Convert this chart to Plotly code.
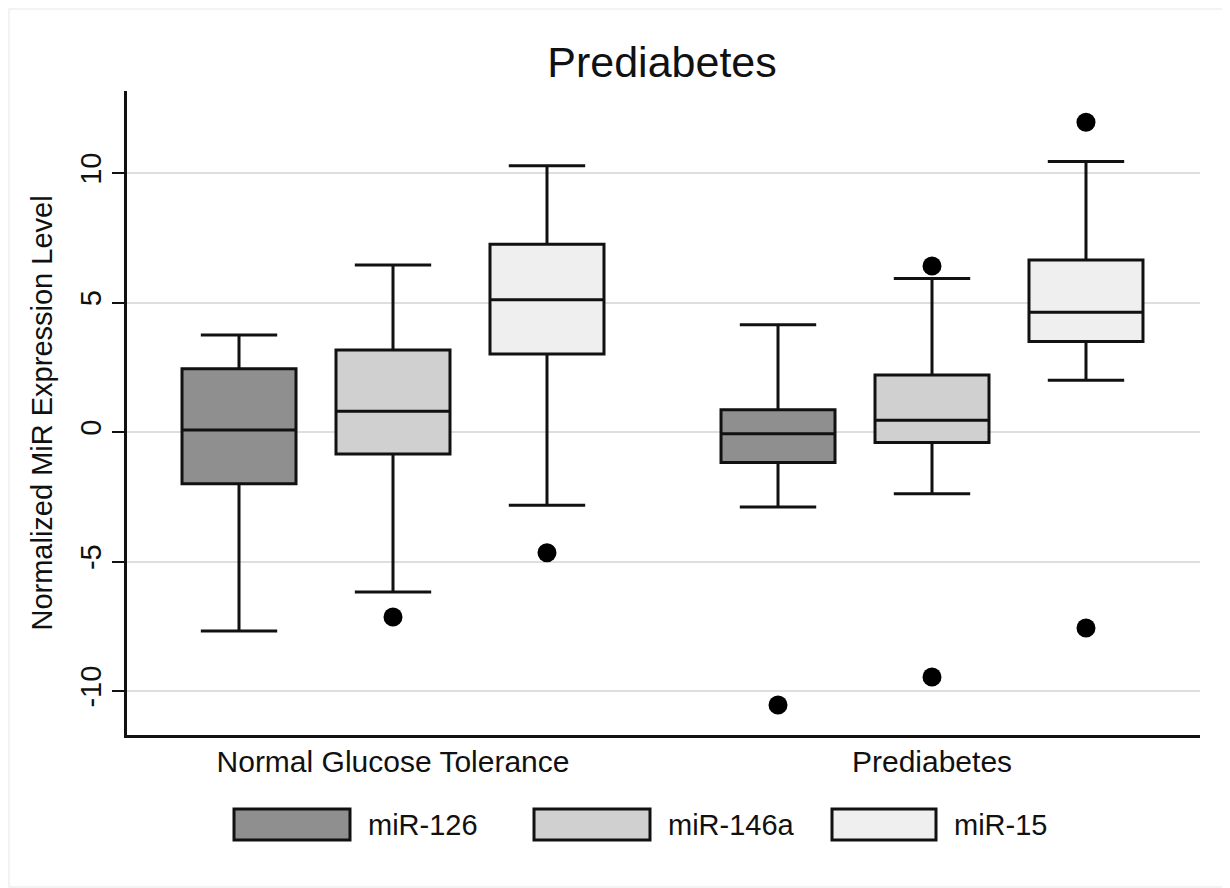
import plotly.graph_objects as go

# ---------------- data ----------------
groups = ["Normal Glucose Tolerance", "Prediabetes"]
series = ["miR-126", "miR-146a", "miR-15"]
fills = ["#8f8f8f", "#d0d0d0", "#efefef"]

# per series: values for [NGT, Prediabetes]
lower_126 = [-7.68, -2.90]
q1_126 = [-2.00, -1.18]
med_126 = [0.08, -0.07]
q3_126 = [2.44, 0.86]
upper_126 = [3.75, 4.14]
out_126_grp = [1]
out_126_val = [-10.54]

lower_146a = [-6.18, -2.38]
q1_146a = [-0.85, -0.41]
med_146a = [0.80, 0.45]
q3_146a = [3.17, 2.20]
upper_146a = [6.45, 5.93]
out_146a_grp = [0, 1, 1]
out_146a_val = [-7.14, 6.41, -9.46]

lower_15 = [-2.83, 2.00]
q1_15 = [3.01, 3.49]
med_15 = [5.11, 4.62]
q3_15 = [7.25, 6.64]
upper_15 = [10.28, 10.44]
out_15_grp = [0, 1, 1]
out_15_val = [-4.66, 11.96, -7.57]

y_ticks = [-10, -5, 0, 5, 10]
y_tick_labels = ["-10", "-5", "0", "5", "10"]

stats = [
    (lower_126, q1_126, med_126, q3_126, upper_126, out_126_grp, out_126_val),
    (lower_146a, q1_146a, med_146a, q3_146a, upper_146a, out_146a_grp, out_146a_val),
    (lower_15, q1_15, med_15, q3_15, upper_15, out_15_grp, out_15_val),
]

# ---------------- layout geometry ----------------
OFF = 8  # page body margin
W, H = 1230 - OFF, 888 - OFF
L, T = 127 - OFF, 91 - OFF
R = W - (1200 - OFF)
B = H - (735 - OFF)
PW, PH = W - L - R, H - T - B

slot = 0.2857     # distance between box centres (category units)
box_w = 0.2115    # box width (category units)

FONT = "Liberation Sans, Arial, Helvetica, sans-serif"
INK = "#111111"

fig = go.Figure()
for i, (name, col, st) in enumerate(zip(series, fills, stats)):
    lo, q1, md, q3, up, og, ov = st
    off = (i - 1) * slot
    xs = [g + off for g in range(len(groups))]
    fig.add_trace(go.Box(
        x=xs, lowerfence=lo, q1=q1, median=md, q3=q3, upperfence=up,
        name=name, width=box_w, whiskerwidth=0.67,
        fillcolor=col, line=dict(color=INK, width=3),
        boxpoints=False, showlegend=False, hoverinfo="skip",
    ))
    fig.add_trace(go.Scatter(
        x=[g + off for g in og], y=ov, mode="markers",
        marker=dict(color="black", size=19),
        showlegend=False, hoverinfo="skip",
    ))


def px_to_paper_x(px):
    return (px - OFF - L) / PW


def px_to_paper_y(py):
    return (H - B - (py - OFF)) / PH


# manual legend (rectangles + labels)
legend_rects = [(234, 350), (534, 650), (832, 936)]
legend_y = (809, 840)
shapes = []
annotations = []
for (x0, x1), name, col in zip(legend_rects, series, fills):
    shapes.append(dict(
        type="rect", xref="paper", yref="paper",
        x0=px_to_paper_x(x0), x1=px_to_paper_x(x1),
        y0=px_to_paper_y(legend_y[1]), y1=px_to_paper_y(legend_y[0]),
        fillcolor=col, line=dict(color=INK, width=3),
    ))
    annotations.append(dict(
        text=name, xref="paper", yref="paper",
        x=px_to_paper_x(x1 + 16), y=px_to_paper_y((legend_y[0] + legend_y[1]) / 2),
        xanchor="left", yanchor="middle", showarrow=False,
        font=dict(size=29, color=INK, family=FONT),
    ))

# faint outer frame
shapes.append(dict(
    type="rect", xref="paper", yref="paper",
    x0=px_to_paper_x(9), x1=px_to_paper_x(1228),
    y0=px_to_paper_y(887), y1=px_to_paper_y(9),
    line=dict(color="#f0f0f0", width=1.5), fillcolor="rgba(0,0,0,0)", layer="below",
))

x_lo = -(393 - 127) / 539
x_hi = 1 + (1200 - 932) / 539

fig.update_layout(
    width=W, height=H,
    margin=dict(l=L, r=R, t=T, b=B, autoexpand=False),
    paper_bgcolor="white", plot_bgcolor="white",
    font=dict(family=FONT, color=INK),
    title=dict(text="Prediabetes", x=px_to_paper_x(662), xref="paper",
               y=1 - (62 - OFF) / H, yref="container", xanchor="center", yanchor="middle",
               font=dict(size=43, color=INK, family=FONT)),
    shapes=shapes, annotations=annotations,
    showlegend=False,
)

fig.update_xaxes(
    range=[x_lo, x_hi],
    tickvals=list(range(len(groups))), ticktext=groups,
    showgrid=False, zeroline=False,
    showline=True, linecolor=INK, linewidth=2.5,
    ticks="", ticklabelstandoff=-2,
    tickfont=dict(size=30, color=INK, family=FONT),
)
fig.update_yaxes(
    range=[(424 - 727) / 25.9, (424 - 83) / 25.9],
    tickvals=y_ticks, ticktext=y_tick_labels, tickangle=-90,
    showgrid=True, gridcolor="#dedede", gridwidth=2,
    zeroline=False,
    showline=True, linecolor=INK, linewidth=2.5,
    ticks="outside", ticklen=12, tickwidth=2, tickcolor=INK,
    tickfont=dict(size=29, color=INK, family=FONT),
    title=dict(text="Normalized MiR Expression Level", standoff=14,
               font=dict(size=29, color=INK, family=FONT)),
)

fig.write_html("out.html")
